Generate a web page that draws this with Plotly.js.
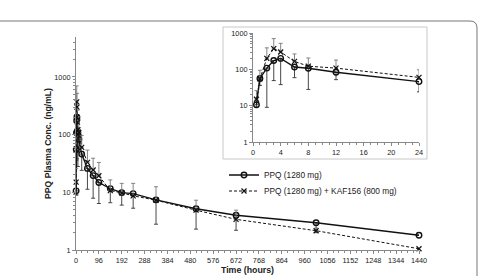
<!DOCTYPE html>
<html><head><meta charset="utf-8">
<script src="https://cdn.plot.ly/plotly-3.0.1.min.js"></script>
<style>html,body{margin:0;padding:0;background:#fff}#c{width:478px;height:276px}</style>
</head><body><div id="c"></div>
<script>
// Data
const timeHours = [0.5,1,2,3,4,6,8,12,24,48,72,96,144,192,240,336,504,672,1008,1440];
const ppqMean = [10.6,56,108,175,200,116,107,83,46,26,19.5,14.8,11.6,9.9,9.5,7.4,5.2,4.0,2.97,1.8];
const ppqLowerBound = [9,36,9,49,38,59,28,52,24,11.3,7.9,6.4,6.6,6.0,5.3,2.8,2.3,2.2,2.0,1.8];
const comboMean = [15,55,200,370,300,165,122,108,60,33,24.4,19.4,10.7,9.8,8.7,7.3,4.9,3.4,2.16,1.05];
const comboUpperBound = [26,94,390,700,520,265,205,180,97,54,39,33,16.4,14.3,14.3,12.5,7.3,4.9,2.4,1.05];
const seriesNames = ['PPQ (1280 mg)','PPQ (1280 mg) + KAF156 (800 mg)'];
const mainXTicks = [0,96,192,288,384,480,576,672,768,864,960,1056,1152,1248,1344,1440];
const insetXTicks = [0,4,8,12,16,20,24];
const insetMaxTime = 24;

const ppqMinus = ppqMean.map((v,i)=>Math.max(0,v-ppqLowerBound[i]));
const comboPlus = comboMean.map((v,i)=>Math.max(0,comboUpperBound[i]-v));

const FONT = 'Liberation Sans, Arial, sans-serif';

function ppqTrace(xa, ya, idx, legend){
  return {x: idx.map(i=>timeHours[i]), y: idx.map(i=>ppqMean[i]), xaxis: xa, yaxis: ya,
    type:'scatter', mode:'lines+markers', name: seriesNames[0], showlegend: legend, legend:'legend', cliponaxis:false,
    line:{color:'#111', width:1.4},
    marker:{symbol:'circle-open', size:5.5, color:'#111', line:{width:1.4, color:'#111'}},
    error_y:{type:'data', symmetric:false, array: idx.map(i=>0), arrayminus: idx.map(i=>ppqMinus[i]),
      color:'#333', thickness:0.9, width:2}};
}
function comboTrace(xa, ya, idx, legend){
  return {x: idx.map(i=>timeHours[i]), y: idx.map(i=>comboMean[i]), xaxis: xa, yaxis: ya,
    type:'scatter', mode:'lines+markers', name: seriesNames[1], showlegend: legend, legend:'legend2', cliponaxis:false,
    line:{color:'#111', width:1, dash:'3px,2px'},
    marker:{symbol:'x-thin-open', size:5, color:'#111', line:{width:1.2, color:'#111'}},
    error_y:{type:'data', symmetric:false, array: idx.map(i=>comboPlus[i]), arrayminus: idx.map(i=>0),
      color:'#777', thickness:0.9, width:2}};
}
const allIdx = timeHours.map((_,i)=>i);
const insetIdx = allIdx.filter(i=>timeHours[i]<=insetMaxTime);

const data = [
  ppqTrace('x','y',allIdx,true),
  comboTrace('x','y',allIdx,true),
  ppqTrace('x2','y2',insetIdx,false),
  comboTrace('x2','y2',insetIdx,false)
];

const W=478,H=276,L=76,R=59,T=33,B=26;
const pw=W-L-R, ph=H-T-B;
const px = v=>(v-L)/pw, py = v=>(H-B-v)/ph;

const axFont = {family:FONT, size:7.3, color:'#222'};
const legFont = {family:FONT, size:8.3, color:'#222'};
const baseAxis = {showgrid:false, zeroline:false, showline:true, linecolor:'#888', linewidth:1,
  ticks:'outside', ticklen:3, tickcolor:'#888', tickfont:axFont};
const layout = {
  width:W, height:H, margin:{l:L,r:R,t:T,b:B,pad:0},
  paper_bgcolor:'#fff', plot_bgcolor:'rgba(0,0,0,0)',
  font:{family:FONT, size:7, color:'#222'},
  showlegend:true,
  legend:{x:px(224), y:py(175), xanchor:'left', yanchor:'middle', bgcolor:'rgba(0,0,0,0)', font:legFont, itemwidth:30},
  legend2:{x:px(224), y:py(191), xanchor:'left', yanchor:'middle', bgcolor:'rgba(0,0,0,0)', font:legFont, itemwidth:30},
  xaxis:Object.assign({}, baseAxis, {domain:[0,1], range:[0,1440], tickvals:mainXTicks, ticktext:mainXTicks.map(String),
    minor:{ticks:'outside', ticklen:2, dtick:24, tick0:0, tickcolor:'#888', showgrid:false},
    title:{text:'<b>Time (hours)</b>', font:{family:FONT, size:8.8, color:'#222'}, standoff:2},
    anchor:'y'}),
  yaxis:Object.assign({}, baseAxis, {domain:[0,(H-B-37)/ph], type:'log', range:[0,3.693], tickvals:[1,10,100,1000], ticktext:['1','10','100','1000'],
    minor:{ticks:'outside', ticklen:2, dtick:'D1', tickcolor:'#888', showgrid:false},
    title:{text:'<b>PPQ Plasma Conc. (ng/mL)</b>', font:{family:FONT, size:8.6, color:'#222'}, standoff:1},
    anchor:'x'}),
  xaxis2:Object.assign({}, baseAxis, {domain:[px(253),px(419)], range:[0,24], tickvals:insetXTicks, ticktext:insetXTicks.map(String),
    minor:{ticks:'outside', ticklen:2, dtick:1, tick0:0, tickcolor:'#888', showgrid:false},
    anchor:'y2'}),
  yaxis2:Object.assign({}, baseAxis, {domain:[py(142),py(33)], type:'log', range:[0,3], tickvals:[1,10,100,1000], ticktext:['1','10','100','1000'],
    minor:{ticks:'outside', ticklen:2, dtick:'D1', tickcolor:'#888', showgrid:false},
    anchor:'x2'}),
  shapes:[
    {type:'rect', xref:'paper', yref:'paper', x0:px(223), x1:px(427), y0:py(159), y1:py(27),
      line:{color:'#c8c8c8', width:1}, fillcolor:'rgba(0,0,0,0)', layer:'below'},
    {type:'path', xref:'paper', yref:'paper',
      path:`M ${px(-5)},${py(21)} L ${px(470)},${py(21)} Q ${px(477)},${py(21)} ${px(477)},${py(28)} L ${px(477)},${py(285)}`,
      line:{color:'#777', width:1}}
  ]
};
Plotly.newPlot('c', data, layout, {displayModeBar:false, staticPlot:true});
</script></body></html>
